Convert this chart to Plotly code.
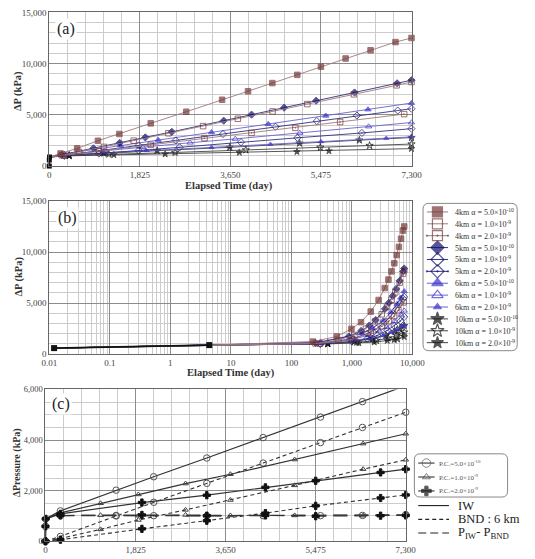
import plotly.graph_objects as go

W, H = 535, 559

# ---------------- data : panels (a) and (b) ----------------
T_EARLY = [0.0, 0.012, 4.4]
P_EARLY = [0, 590, 885]

t_4km_a = [226, 561, 980, 1412, 2044, 2760, 3482, 4005, 4495, 4998, 5475, 5972, 6474, 6977, 7300]
p_4km_a = [1230, 1730, 2470, 3130, 4170, 5300, 6470, 7300, 8100, 8900, 9700, 10500, 11300, 12100, 12500]
t_4km_b = [250, 600, 1100, 1700, 2400, 3100, 3800, 4500, 5200, 6139, 7000, 7300]
p_4km_b = [1050, 1380, 1870, 2480, 3200, 3900, 4620, 5330, 6050, 7000, 7880, 8200]
t_4km_c = [300, 1000, 2044, 3128, 4076, 4959, 5862, 7152]
p_4km_c = [1040, 1450, 2070, 2730, 3230, 3730, 4300, 5070]

t_5km_a = [250, 890, 1419, 1935, 2470, 3515, 4076, 4733, 5378, 6152, 7010, 7300]
p_5km_a = [1100, 1730, 2270, 2800, 3340, 4430, 5020, 5700, 6380, 7180, 8080, 8380]
t_5km_b = [300, 1000, 1800, 2547, 3500, 4559, 5391, 6200, 7023, 7300]
p_5km_b = [1040, 1480, 2010, 2500, 3130, 3840, 4390, 4930, 5420, 5600]
t_5km_c = [300, 1000, 1800, 2625, 3863, 5000, 6300, 7300]
p_5km_c = [1000, 1220, 1520, 1830, 2330, 2760, 3230, 3650]

t_10km_a = [400, 1100, 2173, 3637, 5043, 6249, 7300]
p_10km_a = [1050, 1250, 1500, 1830, 2230, 2530, 2780]
t_10km_b = [400, 1200, 2535, 3960, 5462, 6455, 7300]
p_10km_b = [1020, 1160, 1330, 1570, 1830, 2000, 2150]
t_10km_c = [400, 1300, 2335, 3830, 4991, 5636, 7300]
p_10km_c = [1000, 1090, 1170, 1330, 1400, 1470, 1700]

# ---------------- data : panel (c)  (6 km case) ----------------
BND_START_T = [0.0]
BND_START_P = [0]

t_c_5e10 = [303, 1432, 2193, 3269, 4411, 5572, 6423, 7300]
iw_c_5e10 = [1200, 2020, 2550, 3290, 4100, 4910, 5520, 6150]
bnd_c_5e10 = [190, 1000, 1540, 2290, 3090, 3900, 4500, 5100]
dif_c_5e10 = [1010, 1020, 1010, 1000, 1010, 1010, 1020, 1050]

t_c_1e9 = [303, 1116, 1883, 2838, 3747, 5049, 6436, 7300]
iw_c_1e9 = [1120, 1500, 1850, 2280, 2650, 3230, 3860, 4250]
bnd_c_1e9 = [110, 470, 840, 1240, 1630, 2210, 2850, 3220]
dif_c_1e9 = [1010, 1030, 1010, 1040, 1020, 1020, 1010, 1030]

t_c_2e9 = [303, 1954, 3269, 4456, 5475, 6790, 7300]
iw_c_2e9 = [1080, 1530, 1820, 2130, 2390, 2720, 2850]
bnd_c_2e9 = [60, 490, 810, 1110, 1400, 1710, 1830]
dif_c_2e9 = [1020, 1040, 1010, 1020, 990, 1010, 1020]

SERIES_NAMES = [
    "4km α = 5.0×10<sup>-10</sup>", "4km α = 1.0×10<sup>-9</sup>", "4km α = 2.0×10<sup>-9</sup>",
    "5km α = 5.0×10<sup>-10</sup>", "5km α = 1.0×10<sup>-9</sup>", "5km α = 2.0×10<sup>-9</sup>",
    "6km α = 5.0×10<sup>-10</sup>", "6km α = 1.0×10<sup>-9</sup>", "6km α = 2.0×10<sup>-9</sup>",
    "10km α = 5.0×10<sup>-10</sup>", "10km α = 1.0×10<sup>-9</sup>", "10km α = 2.0×10<sup>-9</sup>",
]
PC_NAMES = ["P.C.=5.0×10<sup>-10</sup>", "P.C.=1.0×10<sup>-9</sup>", "P.C.=2.0×10<sup>-9</sup>"]
STYLE_NAMES = ["IW", "BND : 6 km", "P<sub>IW</sub>- P<sub>BND</sub>"]

X_TICKS_LIN = [0, 1825, 3650, 5475, 7300]
X_TICKS_LOG = [0.01, 0.1, 1, 10, 100, 1000, 10000]
X_TEXT_LOG = ["0.01", "0.1", "1", "10", "100", "1,000", "10,000"]

# ---------------- styling ----------------
SERIF = "Liberation Serif, Times New Roman, DejaVu Serif, serif"
BR, BRL = "#743838", "#a07a7a"
NV, NVL = "#10106e", "#30307e"
BL, BLL = "#3a30d0", "#6a62cc"
BK, BKL = "#111111", "#444444"

series = [
    dict(t=t_4km_a, p=p_4km_a, mc=BR, lc=BRL, sym="square", ms=5.5, lms=10),
    dict(t=t_4km_b, p=p_4km_b, mc=BR, lc=BRL, sym="square-open", ms=5.5, lms=10),
    dict(t=t_4km_c, p=p_4km_c, mc=BR, lc=BRL, sym="square-open-dot", ms=5.5, lms=10),
    dict(t=t_5km_a, p=p_5km_a, mc=NV, lc=NVL, sym="diamond", ms=5.5, lms=10),
    dict(t=t_5km_b, p=p_5km_b, mc=NV, lc=NVL, sym="diamond-open", ms=5.5, lms=10),
    dict(t=t_5km_c, p=p_5km_c, mc=NV, lc=NVL, sym="diamond-open-dot", ms=5.5, lms=10),
    dict(t=t_c_5e10, p=iw_c_5e10, mc=BL, lc=BLL, sym="triangle-up", ms=5.5, lms=10),
    dict(t=t_c_1e9, p=iw_c_1e9, mc=BL, lc=BLL, sym="triangle-up-open", ms=5.5, lms=10),
    dict(t=t_c_2e9, p=iw_c_2e9, mc=BL, lc=BLL, sym="triangle-up", ms=4.5, lms=7),
    dict(t=t_10km_a, p=p_10km_a, mc=BK, lc=BKL, sym="star", ms=5.5, lms=10),
    dict(t=t_10km_b, p=p_10km_b, mc=BK, lc=BKL, sym="star-open", ms=5.5, lms=10),
    dict(t=t_10km_c, p=p_10km_c, mc=BK, lc=BKL, sym="star", ms=5, lms=9),
]

fig = go.Figure()

# panels (a) and (b)
for s in reversed(series):
    n = len(s["t"])
    fig.add_trace(go.Scatter(
        x=T_EARLY + s["t"], y=P_EARLY + s["p"], xaxis="x", yaxis="y",
        mode="lines+markers", cliponaxis=False,
        line=dict(color=s["lc"], width=0.9),
        marker=dict(symbol=s["sym"], size=[0] * len(T_EARLY) + [s["ms"]] * n,
                    color=s["mc"], line=dict(color=s["mc"], width=1))))
    fig.add_trace(go.Scatter(
        x=T_EARLY[1:] + s["t"], y=P_EARLY[1:] + s["p"], xaxis="x2", yaxis="y2",
        mode="lines+markers", cliponaxis=False,
        line=dict(color=s["lc"], width=0.9),
        marker=dict(symbol=s["sym"], size=[0] * (len(T_EARLY) - 1) + [s["ms"]] * n,
                    color=s["mc"], line=dict(color=s["mc"], width=1))))

fig.add_trace(go.Scatter(x=T_EARLY, y=P_EARLY, xaxis="x", yaxis="y", mode="lines+markers",
                         cliponaxis=False, line=dict(color=BK, width=1.5),
                         marker=dict(symbol="square", size=5, color=BK)))
fig.add_trace(go.Scatter(x=T_EARLY[1:], y=P_EARLY[1:], xaxis="x2", yaxis="y2",
                         mode="lines+markers", cliponaxis=False, line=dict(color=BK, width=1.6),
                         marker=dict(symbol="square", size=6, color=BK)))

# panel (c)
C_LINE = "#333333"
pc_sets = [
    (t_c_5e10, iw_c_5e10, bnd_c_5e10, dif_c_5e10, "circle-open", 6.5, "#555555"),
    (t_c_1e9, iw_c_1e9, bnd_c_1e9, dif_c_1e9, "triangle-up-open", 5, "#444444"),
    (t_c_2e9, iw_c_2e9, bnd_c_2e9, dif_c_2e9, "cross", 6, "#111111"),
]
for t, iw, bnd, dif, sym, ms, mc in pc_sets:
    mk = dict(symbol=sym, size=ms, color=mc, line=dict(color=mc, width=1))
    fig.add_trace(go.Scatter(x=T_EARLY + t, y=P_EARLY + iw, xaxis="x3", yaxis="y3",
                             mode="lines+markers", cliponaxis=False,
                             line=dict(color=C_LINE, width=1.2), marker=mk))
    fig.add_trace(go.Scatter(x=BND_START_T + t, y=BND_START_P + bnd, xaxis="x3", yaxis="y3",
                             mode="lines+markers", cliponaxis=False,
                             line=dict(color=C_LINE, width=1.1, dash="4px,3px"), marker=mk))
    fig.add_trace(go.Scatter(x=t, y=dif, xaxis="x3", yaxis="y3",
                             mode="lines+markers", cliponaxis=False,
                             line=dict(color=C_LINE, width=1.1, dash="14px,7px"), marker=mk))

# ---------------- manual legends on a pixel overlay axis ----------------
annots = []
shapes = []
LEG_FONT = dict(family=SERIF, size=8, color="#333")

row0, drow = 210.7, 12.1
for i, s in enumerate(series):
    yy = row0 + drow * i
    fig.add_trace(go.Scatter(
        x=[436, 447, 458], y=[yy, yy, yy], xaxis="x4", yaxis="y4", mode="lines+markers",
        cliponaxis=False, line=dict(color=s["lc"], width=1),
        marker=dict(symbol=s["sym"], size=[0, s["lms"], 0], color=s["mc"],
                    line=dict(color=s["mc"], width=1.2))))
    annots.append(dict(x=463, y=yy, xref="x4", yref="y4", text=SERIES_NAMES[i],
                       showarrow=False, xanchor="left", yanchor="middle", font=LEG_FONT))

def rounded(x0, y0, x1, y1, r):
    return (f"M {x0+r},{y0} L {x1-r},{y0} Q {x1},{y0} {x1},{y0+r} L {x1},{y1-r} "
            f"Q {x1},{y1} {x1-r},{y1} L {x0+r},{y1} Q {x0},{y1} {x0},{y1-r} "
            f"L {x0},{y0+r} Q {x0},{y0} {x0+r},{y0} Z")

shapes.append(dict(type="path", path=rounded(432, 202, 530, 352, 6), xref="x4", yref="y4",
                   line=dict(color="#888", width=1), layer="above"))

pc_rows = [466.4, 480.6, 494.8]
for i, (t, iw, bnd, dif, sym, ms, mc) in enumerate(pc_sets):
    yy = pc_rows[i]
    fig.add_trace(go.Scatter(
        x=[427, 435.5, 444], y=[yy, yy, yy], xaxis="x4", yaxis="y4", mode="lines+markers",
        cliponaxis=False, line=dict(color=C_LINE, width=1.1),
        marker=dict(symbol=sym, size=[0, ms + 2, 0], color=mc, line=dict(color=mc, width=1))))
    annots.append(dict(x=447, y=yy, xref="x4", yref="y4", text=PC_NAMES[i], showarrow=False,
                       xanchor="left", yanchor="middle",
                       font=dict(family=SERIF, size=7, color="#555")))
shapes.append(dict(type="path", path=rounded(423, 457, 520, 501, 6), xref="x4", yref="y4",
                   line=dict(color="#888", width=1), layer="above"))

style_rows = [509.7, 523.7, 537.6]
style_dash = ["solid", "4px,3px", "8px,4px"]
for i in range(3):
    yy = style_rows[i]
    fig.add_trace(go.Scatter(
        x=[427, 459], y=[yy, yy], xaxis="x4", yaxis="y4", mode="lines", cliponaxis=False,
        line=dict(color="#222", width=1.1, dash=style_dash[i])))
    annots.append(dict(x=466, y=yy, xref="x4", yref="y4", text=STYLE_NAMES[i], showarrow=False,
                       xanchor="left", yanchor="middle",
                       font=dict(family=SERIF, size=12.5, color="#222")))

# panel labels and axis titles
for txt, x, y in [("(a)", 49, 24), ("(b)", 50, 217), ("(c)", 44, 406)]:
    annots.append(dict(x=x, y=y, xref="x4", yref="y4", text=txt, showarrow=False,
                       xanchor="left", yanchor="middle", bgcolor="white",
                       font=dict(family=SERIF, size=16, color="#222")))

TITLE_FONT = dict(family=SERIF, size=10.5, color="#333")
annots += [
    dict(x=230, y=184, text="<b>Elapsed Time (day)</b>", font=TITLE_FONT),
    dict(x=232, y=375, text="<b>Elapsed Time (day)</b>", font=TITLE_FONT),
    dict(x=227, y=561, text="<b>Elapsed time (day)</b>", font=TITLE_FONT),
    dict(x=11, y=88, text="<b>ΔP (kPa)</b>", textangle=-90, font=TITLE_FONT),
    dict(x=11, y=277, text="<b>ΔP (kPa)</b>", textangle=-90, font=TITLE_FONT),
    dict(x=9, y=466, text="<b>ΔPressure (kPa)</b>", textangle=-90,
         font=dict(family=SERIF, size=10, color="#333")),
]
for a in annots[-6:]:
    a.update(xref="x4", yref="y4", showarrow=False, xanchor="center", yanchor="middle")

# ---------------- axes ----------------
TICK_FONT = dict(family=SERIF, size=9, color="#444")
MAJ, MIN = "#8c8c8c", "#cccccc"

def lin_x(domain, anchor):
    return dict(domain=domain, anchor=anchor, range=[0, 7300], tickvals=X_TICKS_LIN,
                tickformat=",d", tickfont=TICK_FONT, showgrid=True, gridcolor=MAJ, gridwidth=1,
                minor=dict(dtick=365, tick0=0, showgrid=True, gridcolor=MIN, gridwidth=0.8),
                zeroline=False, showline=True, mirror=True, linecolor="#666", linewidth=1,
                ticks="", fixedrange=True)

def lin_y(domain, anchor, top, dt, mdt, fsize=9):
    return dict(domain=domain, anchor=anchor, range=[0, top], dtick=dt, tick0=0,
                tickformat=",d", tickfont=dict(family=SERIF, size=fsize, color="#444"),
                showgrid=True, gridcolor=MAJ, gridwidth=1,
                minor=dict(dtick=mdt, tick0=0, showgrid=True, gridcolor=MIN, gridwidth=0.8),
                zeroline=False, showline=True, mirror=True, linecolor="#666", linewidth=1,
                ticks="")

log_minor = [m * 10 ** e for e in range(-2, 4) for m in range(2, 10)]

fig.update_layout(
    width=W, height=H, margin=dict(l=0, r=0, t=0, b=0),
    paper_bgcolor="white", plot_bgcolor="rgba(0,0,0,0)", showlegend=False,
    font=dict(family=SERIF),
    xaxis=lin_x([43 / W, 420 / W], "y"),
    yaxis=lin_y([1 - 164 / H, 1 - 7.5 / H], "x", 15000, 5000, 1000),
    xaxis2=dict(domain=[43 / W, 421 / W], anchor="y2", type="log", range=[-2, 4],
                tickvals=X_TICKS_LOG, ticktext=X_TEXT_LOG, tickfont=TICK_FONT,
                showgrid=True, gridcolor=MAJ, gridwidth=1,
                minor=dict(tickmode="array", tickvals=log_minor, showgrid=True,
                           gridcolor=MIN, gridwidth=0.8),
                zeroline=False, showline=True, mirror=True, linecolor="#666", linewidth=1,
                ticks=""),
    yaxis2=lin_y([1 - 355.5 / H, 1 - 199.5 / H], "x2", 15000, 5000, 1000),
    xaxis3=lin_x([39 / W, 414 / W], "y3"),
    yaxis3=lin_y([1 - 546 / H, 1 - 391.5 / H], "x3", 6000, 2000, 500, fsize=8.5),
    xaxis4=dict(domain=[0, 1], anchor="y4", range=[0, W], visible=False, fixedrange=True),
    yaxis4=dict(domain=[0, 1], anchor="x4", range=[H, 0], visible=False, fixedrange=True),
    annotations=annots, shapes=shapes,
)

fig.write_html("out.html")
